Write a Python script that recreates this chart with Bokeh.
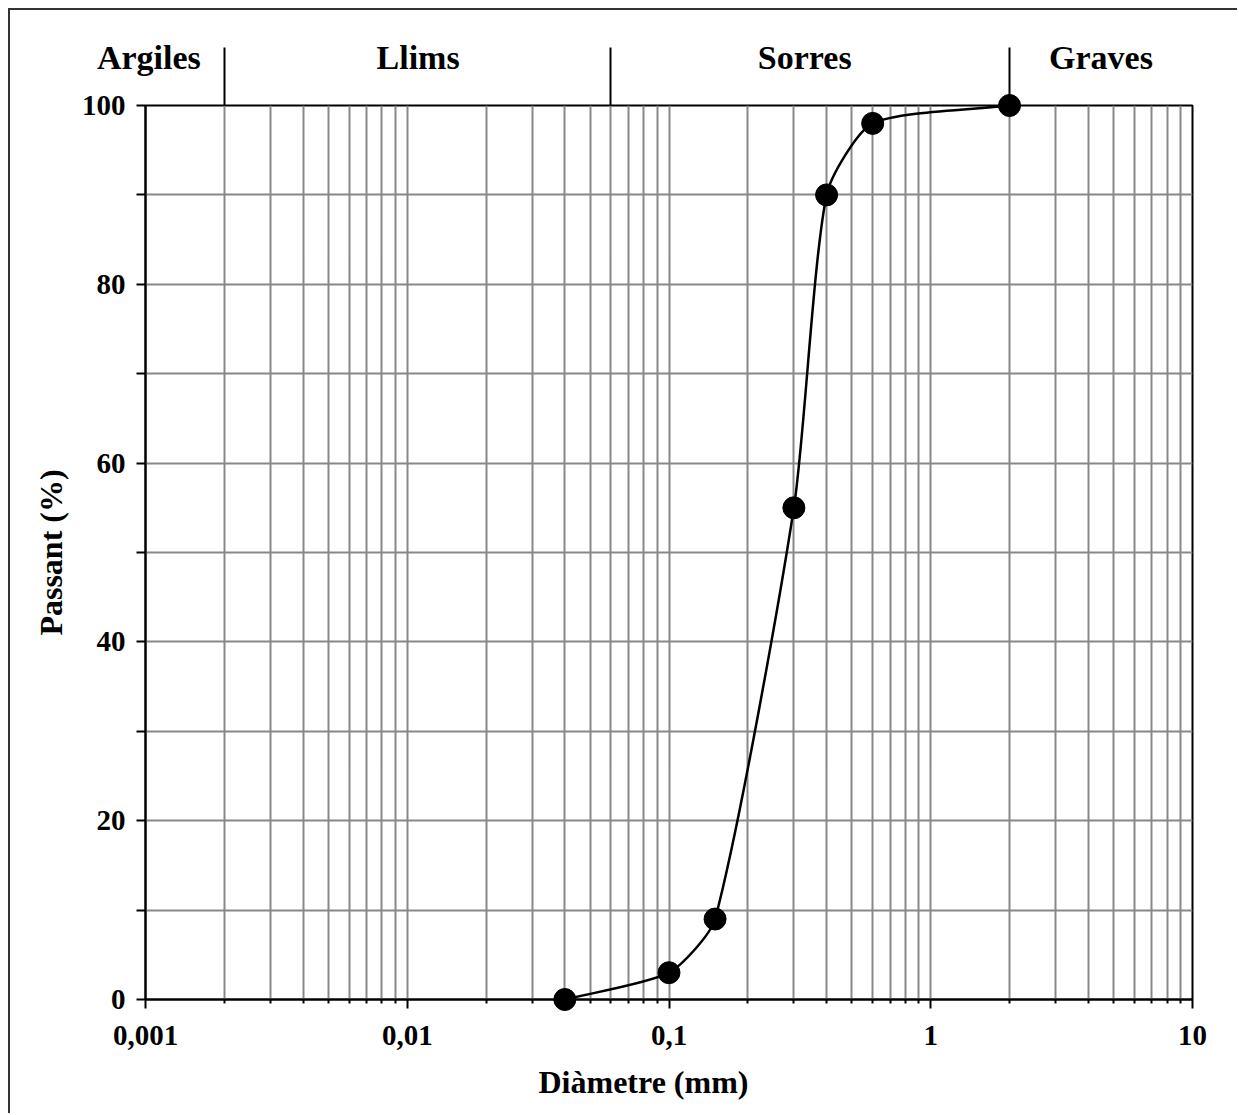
import numpy as np
from bokeh.plotting import figure
from bokeh.models import Range1d, FixedTicker, LogAxis, Title, ColumnDataSource
from bokeh.embed import file_html
from bokeh.resources import INLINE

# ---- data ----
diameter = [0.04, 0.1, 0.15, 0.3, 0.4, 0.6, 2.0]      # mm
passing = [0, 3, 9, 55, 90, 98, 100]                   # %

x_ticks = [0.001, 0.01, 0.1, 1, 10]
x_tick_labels = ["0,001", "0,01", "0,1", "1", "10"]
y_ticks = [0, 20, 40, 60, 80, 100]
y_minor_ticks = [10, 30, 50, 70, 90]

zone_names = ["Argiles", "Llims", "Sorres", "Graves"]
zone_bounds = [0.002, 0.06, 2]
zone_label_x = [0.00103, 0.011, 0.33, 4.47]

# ---- layout / style ----
FONT = "Liberation Serif"
GRID = "#888888"
W, H = 1229, 1105
MB_L, MB_R, MB_T, MB_B = 135, 47, 95, 116
FRAME_W = W - MB_L - MB_R
FRAME_H = H - MB_T - MB_B
TENSION = 0.22

x_minor_ticks = [k * 10.0 ** d for d in range(-3, 1) for k in range(2, 10)]

# ---- smooth curve: cubic Bezier segments through the points,
#      tangents computed in screen-proportional space (log x) ----
sx = FRAME_W / 4.0     # px per decade
sy = FRAME_H / 100.0   # px per %
P = np.column_stack([np.log10(np.array(diameter, float)) * sx,
                     np.array(passing, float) * sy])
n = len(P)
d = np.hypot(*(P[1:] - P[:-1]).T)
T = np.zeros_like(P)
T[0] = (P[1] - P[0]) / d[0]
T[-1] = (P[-1] - P[-2]) / d[-1]
for i in range(1, n - 1):
    T[i] = (P[i + 1] - P[i - 1]) / (d[i - 1] + d[i])
seg = dict(x0=[], y0=[], x1=[], y1=[], cx0=[], cy0=[], cx1=[], cy1=[])
for i in range(n - 1):
    c1 = P[i] + T[i] * d[i] * TENSION
    c2 = P[i + 1] - T[i + 1] * d[i] * TENSION
    seg["x0"].append(10 ** (P[i][0] / sx)); seg["y0"].append(P[i][1] / sy)
    seg["x1"].append(10 ** (P[i + 1][0] / sx)); seg["y1"].append(P[i + 1][1] / sy)
    seg["cx0"].append(10 ** (c1[0] / sx)); seg["cy0"].append(c1[1] / sy)
    seg["cx1"].append(10 ** (c2[0] / sx)); seg["cy1"].append(c2[1] / sy)
curve_src = ColumnDataSource(seg)
pts_src = ColumnDataSource(dict(x=diameter, y=passing))

p = figure(width=W, height=H, x_axis_type="log",
           x_range=Range1d(0.001, 10), y_range=Range1d(0, 100),
           output_backend="svg", toolbar_location=None,
           min_border_left=MB_L, min_border_right=MB_R,
           min_border_top=MB_T, min_border_bottom=MB_B,
           styles={"margin-left": "8px", "margin-top": "8px",
                   "border-left": "2px solid #333", "border-top": "2px solid #333",
                   "border-right": "0px none", "border-bottom": "0px none"})

p.outline_line_color = "black"
p.outline_line_width = 2

xt = FixedTicker(ticks=x_ticks, minor_ticks=x_minor_ticks)
yt = FixedTicker(ticks=y_ticks, minor_ticks=y_minor_ticks)
p.xaxis.ticker = xt
p.yaxis.ticker = yt
p.xgrid.ticker = xt
p.ygrid.ticker = yt
for g in (p.xgrid, p.ygrid):
    g.grid_line_color = GRID
    g.grid_line_width = 2
    g.minor_grid_line_color = GRID
    g.minor_grid_line_width = 2

p.xaxis.major_label_overrides = {t: l for t, l in zip(x_ticks, x_tick_labels)}

for ax in (p.xaxis, p.yaxis):
    ax.axis_line_color = "black"
    ax.axis_line_width = 2
    ax.major_tick_line_color = "black"
    ax.major_tick_line_width = 2
    ax.minor_tick_line_color = "black"
    ax.minor_tick_line_width = 2
    ax.major_tick_in = 0
    ax.minor_tick_in = 0
    ax.major_tick_out = 9
    ax.major_label_text_font = FONT
    ax.major_label_text_font_style = "bold"
    ax.major_label_text_font_size = "29px"
    ax.major_label_text_color = "black"
    ax.axis_label_text_font = FONT
    ax.axis_label_text_font_style = "bold"
    ax.axis_label_text_font_size = "32px"
    ax.axis_label_text_color = "black"

p.xaxis.minor_tick_out = 4
p.yaxis.minor_tick_out = 9
p.xaxis.major_label_standoff = 17
p.yaxis.major_label_standoff = 11
p.yaxis.axis_label = "Passant (%)"
p.yaxis.axis_label_standoff = 10

xtitle = Title(text="Diàmetre (mm)", align="left", offset=393,
               text_font=FONT, text_font_style="bold", text_font_size="32px",
               text_color="black", standoff=28)
p.add_layout(xtitle, "below")

top = LogAxis(ticker=FixedTicker(ticks=zone_label_x, minor_ticks=zone_bounds),
              major_label_overrides={x: nm for x, nm in zip(zone_label_x, zone_names)},
              axis_line_color=None, major_tick_line_color=None,
              major_tick_in=0, major_tick_out=0,
              minor_tick_in=0, minor_tick_out=58,
              minor_tick_line_color="black", minor_tick_line_width=2,
              major_label_standoff=-28,
              major_label_text_font=FONT, major_label_text_font_style="bold",
              major_label_text_font_size="34px", major_label_text_color="black")
p.add_layout(top, "above")

p.bezier(x0="x0", y0="y0", x1="x1", y1="y1", cx0="cx0", cy0="cy0",
         cx1="cx1", cy1="cy1", source=curve_src, line_color="black", line_width=2.5)
p.scatter("x", "y", source=pts_src, size=22, fill_color="black",
          line_color="black", level="overlay")

open("out.html", "w").write(file_html(p, INLINE))
